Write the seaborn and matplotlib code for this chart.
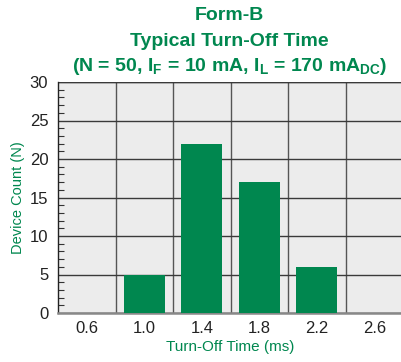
import matplotlib
matplotlib.use("Agg")
import matplotlib.pyplot as plt
import seaborn as sns
import pandas as pd
from matplotlib.ticker import MultipleLocator, FixedLocator

categories = ["0.6", "1.0", "1.4", "1.8", "2.2", "2.6"]
counts = [0, 5, 22, 17, 6, 0]

GREEN = "#00874f"
sns.set_theme(style="white")
plt.rcParams['font.family'] = ['Liberation Sans', 'DejaVu Sans']
plt.rcParams['mathtext.fontset'] = 'custom'
plt.rcParams['mathtext.rm'] = 'Liberation Sans:bold'
plt.rcParams['mathtext.bf'] = 'Liberation Sans:bold'

df = pd.DataFrame({"time": categories, "count": counts})

fig = plt.figure(figsize=(4.01, 3.62), dpi=100)
ax = fig.add_axes([58/401, 49/362, 345/401, 231/362])
ax.set_facecolor("#ececec")

sns.barplot(data=df, x="time", y="count", order=categories, color=GREEN,
            width=0.72, saturation=1, ax=ax, zorder=3, edgecolor="none", linewidth=0)

ax.set_xlim(-0.5, 5.5)
ax.set_ylim(0, 30)
ax.yaxis.set_major_locator(MultipleLocator(5))
ax.yaxis.set_minor_locator(MultipleLocator(1))
ax.xaxis.set_minor_locator(FixedLocator([0.5, 1.5, 2.5, 3.5, 4.5]))
ax.grid(axis="y", which="major", color="#3a3a3a", lw=1.0, zorder=1)
ax.grid(axis="x", which="minor", color="#555555", lw=1.0, zorder=1)
ax.tick_params(axis="y", which="major", length=0, labelsize=12, labelcolor="#222222", pad=7)
ax.tick_params(axis="y", which="minor", direction="in", length=4.5, width=0.8, color="#333333", left=True)
ax.tick_params(axis="x", which="both", length=0, labelsize=12, labelcolor="#222222", pad=6)

for s in ["top", "right"]:
    ax.spines[s].set_visible(False)
ax.spines["left"].set_color("#222222")
ax.spines["left"].set_linewidth(1.0)
ax.spines["bottom"].set_color("#888888")
ax.spines["bottom"].set_linewidth(1.8)
ax.axhline(30, color="#3a3a3a", lw=1.0, zorder=1)

ax.set_xlabel("Turn-Off Time (ms)", color=GREEN, fontsize=11, labelpad=3)
ax.set_ylabel("Device Count (N)", color=GREEN, fontsize=10.5, labelpad=3)

tfam = ['Liberation Sans', 'DejaVu Sans']
fig.text(0.572, 0.958, "Form-B", ha="center", va="center", color=GREEN,
         fontsize=14, fontweight="bold", family=tfam)
fig.text(0.572, 0.885, "Typical Turn-Off Time", ha="center", va="center", color=GREEN,
         fontsize=14, fontweight="bold", family=tfam)
fig.text(0.574, 0.815,
         r"(N = 50, I$_\mathrm{F}$ = 10 mA, I$_\mathrm{L}$ = 170 mA$_\mathrm{DC}$)",
         ha="center", va="center", color=GREEN, fontsize=14, fontweight="bold", family=tfam)

fig.savefig("out.png", dpi=100)
